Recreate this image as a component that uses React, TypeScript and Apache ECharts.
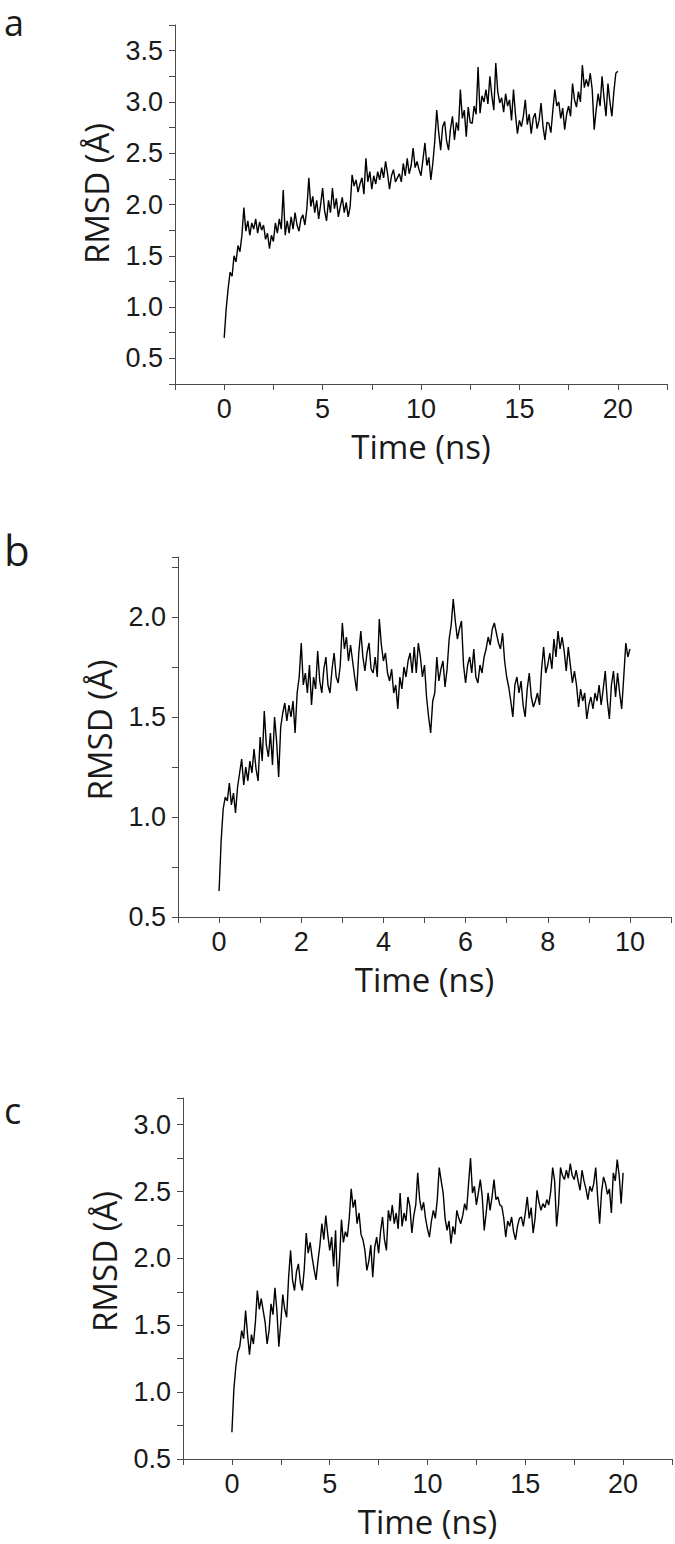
import React, { useEffect, useRef } from "react";
import * as echarts from "echarts";

// ---- Data ----
const PANEL_LABELS = ["a", "b", "c"];
const X_TITLE = "Time (ns)";
const Y_TITLE = "RMSD (Å)";

// panel a: 0–20 ns, one value every 0.1 ns
const STEP_A = 0.1;
const RMSD_A = [
  0.70, 0.98, 1.18, 1.34, 1.30, 1.50, 1.44, 1.60, 1.54, 1.70,
  1.97, 1.74, 1.84, 1.70, 1.82, 1.76, 1.86, 1.72, 1.83, 1.75,
  1.80, 1.66, 1.72, 1.57, 1.70, 1.64, 1.82, 1.72, 1.86, 1.76,
  2.14, 1.70, 1.84, 1.72, 1.88, 1.76, 1.92, 1.80, 1.74, 1.86,
  1.90, 1.80, 1.96, 2.26, 1.98, 2.08, 1.92, 2.04, 1.86, 2.00,
  2.16, 1.94, 1.84, 2.04, 1.92, 2.16, 1.96, 2.06, 1.88, 1.98,
  2.07, 1.92, 2.02, 1.88, 1.98, 2.29, 2.18, 2.24, 2.12, 2.20,
  2.26, 2.10, 2.45, 2.22, 2.32, 2.15, 2.28, 2.20, 2.32, 2.24,
  2.36, 2.26, 2.42, 2.30, 2.15, 2.28, 2.34, 2.22, 2.26, 2.30,
  2.22, 2.40, 2.28, 2.45, 2.30, 2.38, 2.55, 2.36, 2.42, 2.34,
  2.28, 2.44, 2.60, 2.38, 2.46, 2.24, 2.40, 2.62, 2.92, 2.70,
  2.53, 2.76, 2.81, 2.62, 2.53, 2.74, 2.86, 2.63, 2.80, 2.72,
  3.12, 2.84, 2.92, 2.66, 2.95, 2.80, 2.79, 2.96, 2.88, 3.34,
  2.89, 3.06, 3.00, 3.12, 2.98, 3.25, 3.06, 2.92, 3.38, 3.10,
  2.99, 3.04, 2.90, 3.08, 2.96, 3.02, 2.82, 3.12, 2.88, 2.69,
  2.82, 2.76, 2.86, 3.02, 2.78, 2.88, 2.69, 2.84, 2.89, 2.74,
  2.82, 2.99, 2.76, 2.63, 2.80, 2.79, 2.70, 2.92, 3.12, 2.96,
  3.00, 2.84, 2.94, 2.73, 2.88, 2.96, 2.86, 3.18, 3.02, 2.95,
  3.10, 3.00, 3.36, 3.14, 3.22, 3.15, 3.28, 3.12, 2.73, 2.92,
  3.08, 2.96, 3.25, 3.04, 2.86, 3.18, 3.00, 2.86, 3.10, 3.28,
  3.30,
];

// panel b: 0–10 ns, one value every 0.05 ns
const STEP_B = 0.05;
const RMSD_B = [
  0.63, 0.88, 1.04, 1.10, 1.08, 1.17, 1.06, 1.12, 1.02, 1.15,
  1.22, 1.29, 1.16, 1.25, 1.18, 1.28, 1.22, 1.34, 1.24, 1.18,
  1.40, 1.28, 1.53, 1.36, 1.30, 1.42, 1.26, 1.50, 1.38, 1.20,
  1.45, 1.52, 1.57, 1.48, 1.56, 1.50, 1.58, 1.42, 1.62, 1.70,
  1.87, 1.66, 1.72, 1.62, 1.76, 1.56, 1.70, 1.64, 1.83, 1.68,
  1.62, 1.74, 1.80, 1.66, 1.62, 1.74, 1.82, 1.70, 1.67, 1.76,
  1.97, 1.84, 1.90, 1.78, 1.86, 1.78, 1.70, 1.63, 1.82, 1.93,
  1.80, 1.73, 1.82, 1.87, 1.74, 1.72, 1.80, 1.70, 1.99, 1.86,
  1.78, 1.82, 1.72, 1.68, 1.74, 1.62, 1.66, 1.54, 1.70, 1.64,
  1.75, 1.70, 1.78, 1.82, 1.72, 1.85, 1.72, 1.87, 1.80, 1.70,
  1.76, 1.60, 1.50, 1.42, 1.58, 1.62, 1.80, 1.68, 1.74, 1.78,
  1.65, 1.74, 1.89, 1.96, 2.09, 1.98, 1.89, 1.94, 1.98, 1.76,
  1.67, 1.76, 1.80, 1.72, 1.84, 1.70, 1.67, 1.76, 1.72, 1.80,
  1.84, 1.90, 1.86, 1.94, 1.97, 1.92, 1.87, 1.84, 1.92, 1.78,
  1.70, 1.65, 1.58, 1.50, 1.66, 1.70, 1.62, 1.68, 1.56, 1.50,
  1.64, 1.72, 1.60, 1.55, 1.58, 1.62, 1.56, 1.74, 1.85, 1.72,
  1.76, 1.82, 1.74, 1.89, 1.80, 1.93, 1.84, 1.90, 1.83, 1.73,
  1.85, 1.76, 1.67, 1.73, 1.66, 1.55, 1.64, 1.58, 1.62, 1.49,
  1.56, 1.60, 1.54, 1.62, 1.58, 1.66, 1.56, 1.64, 1.73, 1.58,
  1.49, 1.66, 1.73, 1.60, 1.72, 1.62, 1.54, 1.70, 1.87, 1.80,
  1.84,
];

// panel c: 0–20 ns, one value every 0.1 ns
const STEP_C = 0.1;
const RMSD_C = [
  0.70, 1.02, 1.19, 1.30, 1.34, 1.46, 1.40, 1.61, 1.43, 1.28,
  1.43, 1.36, 1.52, 1.76, 1.62, 1.70, 1.61, 1.52, 1.36, 1.46,
  1.66, 1.58, 1.78, 1.61, 1.34, 1.52, 1.73, 1.62, 1.56, 1.86,
  2.06, 1.84, 1.76, 1.90, 1.96, 1.82, 1.76, 1.92, 2.19, 2.04,
  2.12, 2.01, 1.92, 1.84, 1.98, 2.10, 2.26, 2.14, 2.32, 2.18,
  2.06, 2.16, 1.94, 2.21, 1.79, 1.98, 2.29, 2.12, 2.20, 2.16,
  2.30, 2.52, 2.38, 2.44, 2.26, 2.34, 2.18, 2.14, 2.06, 1.91,
  1.98, 2.10, 1.86, 2.08, 2.16, 2.04, 2.20, 2.31, 2.14, 2.06,
  2.36, 2.28, 2.40, 2.26, 2.34, 2.22, 2.49, 2.24, 2.34, 2.28,
  2.46, 2.39, 2.19, 2.32, 2.40, 2.64, 2.44, 2.36, 2.42, 2.30,
  2.22, 2.16, 2.28, 2.36, 2.30, 2.44, 2.68, 2.58, 2.49, 2.30,
  2.21, 2.28, 2.11, 2.24, 2.18, 2.36, 2.30, 2.26, 2.32, 2.41,
  2.36, 2.56, 2.75, 2.49, 2.54, 2.40, 2.49, 2.59, 2.46, 2.21,
  2.34, 2.49, 2.36, 2.46, 2.59, 2.44, 2.46, 2.40, 2.39, 2.30,
  2.16, 2.28, 2.24, 2.31, 2.20, 2.14, 2.24, 2.30, 2.31, 2.24,
  2.34, 2.46, 2.30, 2.38, 2.19, 2.30, 2.51, 2.42, 2.36, 2.41,
  2.38, 2.44, 2.40, 2.50, 2.68, 2.58, 2.24, 2.40, 2.68, 2.62,
  2.59, 2.66, 2.60, 2.71, 2.62, 2.59, 2.66, 2.58, 2.51, 2.66,
  2.58, 2.52, 2.44, 2.54, 2.50, 2.56, 2.68, 2.46, 2.26, 2.50,
  2.61, 2.56, 2.48, 2.52, 2.34, 2.64, 2.58, 2.74, 2.62, 2.41,
  2.64,
];

// axis ranges / ticks
const X_MIN = [-2.5, -1, -2.5];
const X_MAX = [22.5, 11, 22.5];
const X_TICK = [2.5, 1, 2.5];
const X_LABEL_EVERY = [5, 2, 5];
const Y_MIN = [0.25, 0.5, 0.5];
const Y_MAX = [3.75, 2.3, 3.2];
const Y_TICK = 0.25;
const Y_LABEL_EVERY = 0.5;

const W = 675;
const H = 1544;

const AXIS_COLOR = "#4a4a4a";
const TEXT_COLOR = "#1a1a1a";
const TICK_FONT = "Liberation Sans, Arial, sans-serif";
const TITLE_FONT = "Open Sans, Noto Sans, sans-serif";

function isMultiple(v: number, step: number) {
  const r = v / step;
  return Math.abs(r - Math.round(r)) < 1e-6;
}

export default function App() {
  const ref = useRef<HTMLDivElement>(null);

  useEffect(() => {
    if (!ref.current) return;
    const chart = echarts.init(ref.current, null, { renderer: "svg", width: W, height: H });

    const grids = [
      { left: 175, top: 25, width: 492, height: 359 },
      { left: 178, top: 557, width: 493, height: 360 },
      { left: 183, top: 1098, width: 490, height: 361 },
    ];
    const yNamePad = [22, 14, 34];

    const series = [
      { data: RMSD_A, step: STEP_A },
      { data: RMSD_B, step: STEP_B },
      { data: RMSD_C, step: STEP_C },
    ];

    const xAxis = grids.map((_, i) => ({
      type: "value",
      gridIndex: i,
      min: X_MIN[i],
      max: X_MAX[i],
      interval: X_TICK[i],
      name: X_TITLE,
      nameLocation: "middle",
      nameGap: 46,
      nameTextStyle: { fontFamily: TITLE_FONT, fontSize: 33, color: TEXT_COLOR },
      axisLine: { show: true, onZero: false, lineStyle: { color: AXIS_COLOR, width: 1 } },
      axisTick: { show: true, inside: false, length: 6, lineStyle: { color: AXIS_COLOR, width: 1 } },
      axisLabel: {
        interval: 0,
        margin: 11,
        fontFamily: TICK_FONT,
        fontSize: 27,
        color: TEXT_COLOR,
        formatter: (v: number) => (isMultiple(v, X_LABEL_EVERY[i]) && v >= 0 && v <= X_MAX[i] - X_TICK[i] + 1e-9 ? String(v) : ""),
      },
      splitLine: { show: false },
    }));

    const yAxis = grids.map((_, i) => ({
      type: "value",
      gridIndex: i,
      min: Y_MIN[i],
      max: Y_MAX[i],
      interval: Y_TICK,
      name: Y_TITLE,
      nameLocation: "middle",
      nameGap: 62,
      nameTextStyle: {
        fontFamily: TITLE_FONT,
        fontSize: 33,
        color: TEXT_COLOR,
        padding: [0, 0, 0, yNamePad[i]],
      },
      axisLine: { show: true, onZero: false, lineStyle: { color: AXIS_COLOR, width: 1 } },
      axisTick: { show: true, inside: false, length: 6, lineStyle: { color: AXIS_COLOR, width: 1 } },
      axisLabel: {
        interval: 0,
        margin: 12,
        fontFamily: TICK_FONT,
        fontSize: 27,
        color: TEXT_COLOR,
        formatter: (v: number) => (isMultiple(v, Y_LABEL_EVERY) && v >= Y_MIN[i] + 1e-9 - 0.0001 && v <= Y_MAX[i] - 0.2 ? v.toFixed(1) : ""),
      },
      splitLine: { show: false },
    }));

    const letterTop = [2, 526, 1090];
    const letterSize = [36, 42, 36];

    chart.setOption({
      animation: false,
      backgroundColor: "#ffffff",
      title: PANEL_LABELS.map((t, i) => ({
        text: t,
        left: 2,
        top: letterTop[i],
        padding: 2,
        textStyle: {
          fontFamily: TITLE_FONT,
          fontSize: letterSize[i],
          fontWeight: "normal",
          color: TEXT_COLOR,
        },
      })),
      grid: grids.map((g) => ({ ...g, containLabel: false, show: false })),
      xAxis,
      yAxis,
      series: series.map((s, i) => ({
        type: "line",
        xAxisIndex: i,
        yAxisIndex: i,
        showSymbol: false,
        symbol: "none",
        silent: true,
        lineStyle: { color: "#000000", width: 1.4 },
        data: s.data.map((v, k) => [Number((k * s.step).toFixed(3)), v]),
      })),
    });

    return () => chart.dispose();
  }, []);

  return (
    <div
      ref={ref}
      style={{ position: "fixed", left: 0, top: 0, width: W, height: H, background: "#fff" }}
    />
  );
}
